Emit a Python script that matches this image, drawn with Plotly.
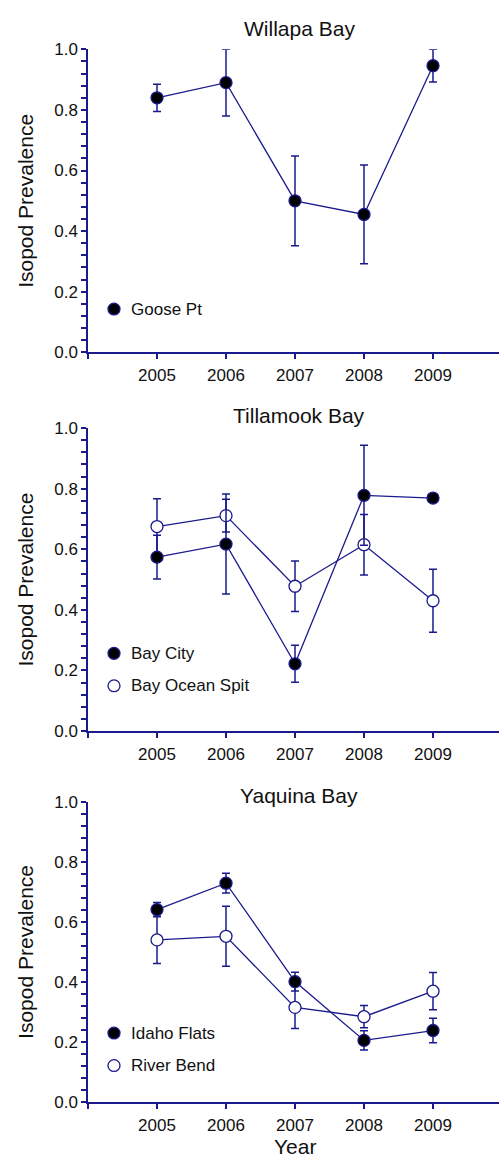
import plotly.graph_objects as go

# ---- data -------------------------------------------------------------
years = [2005, 2006, 2007, 2008, 2009]

# Willapa Bay
goose_pt = [0.840, 0.890, 0.500, 0.455, 0.946]
goose_pt_err = [0.045, 0.110, 0.148, 0.163, 0.054]

# Tillamook Bay
bay_city = [0.574, 0.617, 0.222, 0.778, 0.769]
bay_city_err = [0.072, 0.165, 0.061, 0.165, 0.0]
bay_ocean_spit = [0.675, 0.711, 0.478, 0.615, 0.430]
bay_ocean_spit_err = [0.092, 0.054, 0.083, 0.100, 0.104]

# Yaquina Bay
idaho_flats = [0.641, 0.729, 0.401, 0.205, 0.238]
idaho_flats_err = [0.024, 0.033, 0.031, 0.032, 0.041]
river_bend = [0.540, 0.552, 0.315, 0.284, 0.369]
river_bend_err = [0.079, 0.100, 0.070, 0.037, 0.062]

panel_titles = ["Willapa Bay", "Tillamook Bay", "Yaquina Bay"]
y_tick_vals = [0.0, 0.2, 0.4, 0.6, 0.8, 1.0]
y_tick_text = ["0.0", "0.2", "0.4", "0.6", "0.8", "1.0"]
x_tick_vals = [2004, 2005, 2006, 2007, 2008, 2009]
x_tick_text = ["", "2005", "2006", "2007", "2008", "2009"]

# ---- styling / geometry ---------------------------------------------
W, H = 499, 1168
NAVY = "#1a1a8c"
TEXT = "#111111"
FONT = "Liberation Sans, Arial, Helvetica, sans-serif"

AX_LEFT = 88            # pixel x of the y-axis line
PX_PER_YEAR = 69
PANELS = [(41, 349), (426, 734), (806, 1111)]   # (top, bottom) pixel rows
TITLE_Y = [20, 413, 800]


def py(p):
    return 1 - p / H


def px(p):
    return p / W


series = [
    # (panel, name, values, errors, filled, legend row y)
    (0, "Goose Pt", goose_pt, goose_pt_err, True, 305),
    (1, "Bay Ocean Spit", bay_ocean_spit, bay_ocean_spit_err, False, 688),
    (1, "Bay City", bay_city, bay_city_err, True, 655),
    (2, "River Bend", river_bend, river_bend_err, False, 1074),
    (2, "Idaho Flats", idaho_flats, idaho_flats_err, True, 1041),
]

fig = go.Figure()

for panel, name, vals, errs, filled, _ in series:
    sfx = "" if panel == 0 else str(panel + 1)
    fig.add_trace(go.Scatter(
        x=years, y=vals, name=name,
        xaxis="x" + sfx, yaxis="y" + sfx,
        mode="lines+markers",
        line=dict(color=NAVY, width=1.3),
        marker=dict(size=12, color="#000000" if filled else "#ffffff",
                    line=dict(color=NAVY, width=1.3)),
        error_y=dict(type="data", array=errs, visible=True,
                     color=NAVY, thickness=1.5, width=4),
        cliponaxis=False,
        showlegend=False,
    ))

layout = dict(
    width=W, height=H,
    margin=dict(l=0, r=0, t=0, b=0),
    paper_bgcolor="white", plot_bgcolor="white",
    font=dict(family=FONT, color=TEXT, size=17),
    showlegend=False,
)

x_range = [2004, 2004 + (W - AX_LEFT) / PX_PER_YEAR]
for i, (top, bottom) in enumerate(PANELS):
    sfx = "" if i == 0 else str(i + 1)
    layout["xaxis" + sfx] = dict(
        domain=[px(AX_LEFT), 1], range=x_range, anchor="y" + sfx,
        tickvals=x_tick_vals, ticktext=x_tick_text,
        ticks="outside", ticklen=5, tickwidth=1.5, tickcolor=NAVY,
        showline=True, linecolor=NAVY, linewidth=1.5,
        showgrid=False, zeroline=False,
        tickfont=dict(size=17, color=TEXT), ticklabelstandoff=2,
    )
    layout["yaxis" + sfx] = dict(
        domain=[py(bottom), py(top)], range=[0, 1], anchor="x" + sfx,
        tickvals=y_tick_vals, ticktext=y_tick_text,
        ticks="outside", ticklen=5, tickwidth=1.5, tickcolor=NAVY,
        minor=dict(dtick=0.04, tick0=0, ticks="outside", ticklen=5,
                   tickwidth=1.5, tickcolor=NAVY, showgrid=False),
        showline=True, linecolor=NAVY, linewidth=1.5,
        showgrid=False, zeroline=False,
        tickfont=dict(size=17, color=TEXT),
    )

annotations = []
shapes = []
for i, (top, bottom) in enumerate(PANELS):
    annotations.append(dict(
        text=panel_titles[i], xref="paper", yref="paper",
        x=px(299), y=py(TITLE_Y[i]), xanchor="center", yanchor="middle",
        showarrow=False, font=dict(size=21, color=TEXT)))
    annotations.append(dict(
        text="Isopod Prevalence", xref="paper", yref="paper",
        x=px(26), y=py((top + bottom) / 2), xanchor="center", yanchor="middle",
        textangle=-90, showarrow=False, font=dict(size=21, color=TEXT)))

annotations.append(dict(
    text="Year", xref="paper", yref="paper",
    x=px(AX_LEFT + 3 * PX_PER_YEAR), y=py(1156), xanchor="center", yanchor="middle",
    showarrow=False, font=dict(size=21, color=TEXT)))

# legend entries
R = 6
for panel, name, vals, errs, filled, ly in series:
    cx = 114
    shapes.append(dict(
        type="circle", xref="paper", yref="paper",
        x0=px(cx - R), x1=px(cx + R), y0=py(ly + R), y1=py(ly - R),
        fillcolor="#000000" if filled else "#ffffff",
        line=dict(color=NAVY, width=1.3)))
    annotations.append(dict(
        text=name, xref="paper", yref="paper",
        x=px(129), y=py(ly), xanchor="left", yanchor="middle",
        showarrow=False, font=dict(size=17, color=TEXT)))

layout["annotations"] = annotations
layout["shapes"] = shapes
fig.update_layout(**layout)

fig.write_html("out.html")
